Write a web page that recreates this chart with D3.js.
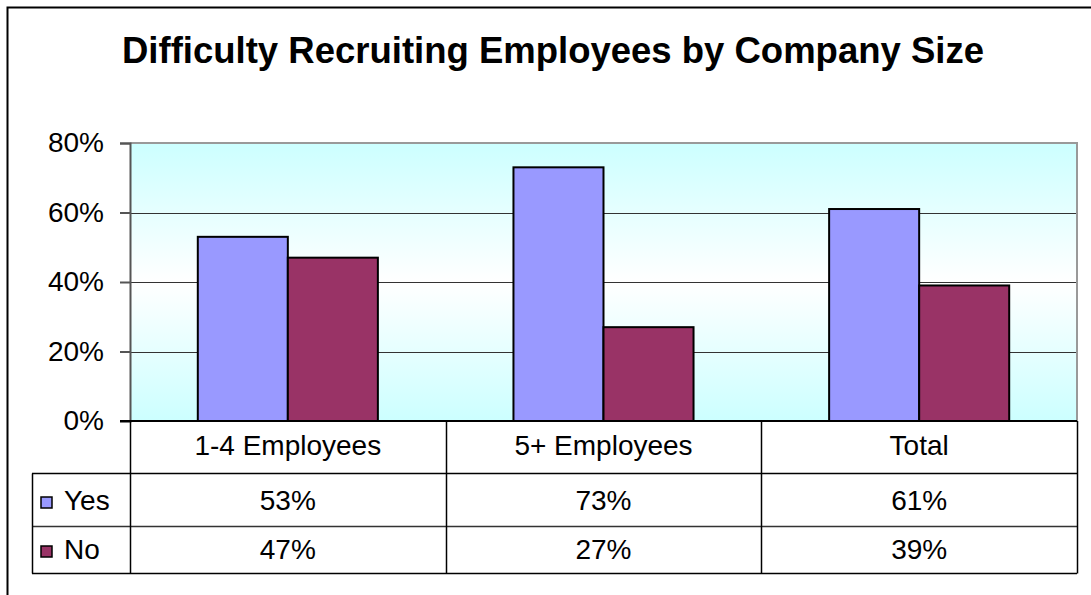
<!DOCTYPE html>
<html>
<head>
<meta charset="utf-8">
<script src="https://cdn.jsdelivr.net/npm/d3@7"></script>
<style>
  html, body { margin: 0; padding: 0; background: #fff; }
  svg { display: block; }
  text { font-family: "Liberation Sans", Arial, sans-serif; fill: #000; }
</style>
</head>
<body>
<svg id="chart" width="1091" height="595"></svg>
<script>
// Chart data
const title = "Difficulty Recruiting Employees by Company Size";
const categories = ["1-4 Employees", "5+ Employees", "Total"];
const seriesNames = ["Yes", "No"];
const yesValues = [53, 73, 61];
const noValues = [47, 27, 39];
const yTicks = [0, 20, 40, 60, 80];
const seriesColors = ["#9999FF", "#993366"];

const seriesValues = [yesValues, noValues];

const svg = d3.select("#chart");

// Outer frame
svg.append("rect")
  .attr("x", 7.5).attr("y", 7.5)
  .attr("width", 1200).attr("height", 700)
  .attr("fill", "#fff").attr("stroke", "#000").attr("stroke-width", 2);

// Title
svg.append("text")
  .attr("x", 553).attr("y", 63)
  .attr("text-anchor", "middle")
  .attr("font-size", 36.5).attr("font-weight", "bold")
  .text(title);

// Plot geometry
const plot = { left: 130, right: 1077, top: 143, bottom: 421 };

const y = d3.scaleLinear().domain([0, 80]).range([plot.bottom, plot.top]);
const x0 = d3.scaleBand().domain(categories).range([plot.left, plot.right]).padding(0);
const x1 = d3.scaleBand().domain(seriesNames).range([0, x0.bandwidth()])
  .paddingInner(0).paddingOuter(0.753);

// Background gradient
const defs = svg.append("defs");
const grad = defs.append("linearGradient").attr("id", "plotBg")
  .attr("x1", 0).attr("y1", 0).attr("x2", 0).attr("y2", 1);
grad.append("stop").attr("offset", "0%").attr("stop-color", "#CCFFFF");
grad.append("stop").attr("offset", "50%").attr("stop-color", "#FFFFFF");
grad.append("stop").attr("offset", "100%").attr("stop-color", "#CCFFFF");

svg.append("rect")
  .attr("x", plot.left).attr("y", plot.top)
  .attr("width", plot.right - plot.left).attr("height", plot.bottom - plot.top)
  .attr("fill", "url(#plotBg)");

// Gridlines
svg.append("g")
  .selectAll("line")
  .data(yTicks.filter(t => t > 0 && t < 80))
  .join("line")
  .attr("x1", plot.left).attr("x2", plot.right)
  .attr("y1", d => Math.round(y(d)) + 0.5).attr("y2", d => Math.round(y(d)) + 0.5)
  .attr("stroke", "#333").attr("stroke-width", 1);

// Plot frame top and right (gray)
svg.append("path")
  .attr("d", `M${plot.left},${plot.top}H${plot.right}V${plot.bottom}`)
  .attr("fill", "none").attr("stroke", "#999").attr("stroke-width", 2);

// Bars
const groups = svg.append("g")
  .selectAll("g")
  .data(categories)
  .join("g")
  .attr("transform", d => `translate(${x0(d)},0)`);

groups.selectAll("rect")
  .data((d, i) => seriesNames.map((s, j) => ({ s, v: seriesValues[j][i], c: seriesColors[j] })))
  .join("rect")
  .attr("x", d => x1(d.s))
  .attr("y", d => y(d.v))
  .attr("width", x1.bandwidth())
  .attr("height", d => y(0) - y(d.v))
  .attr("fill", d => d.c)
  .attr("stroke", "#000").attr("stroke-width", 2);

// Y axis
const yAxis = d3.axisLeft(y).tickValues(yTicks).tickFormat(d => d + "%").tickSize(10).tickPadding(16);
const yg = svg.append("g").attr("transform", `translate(${plot.left},0)`).call(yAxis);
yg.select(".domain").attr("stroke", "#555").attr("stroke-width", 2);
yg.selectAll(".tick line").attr("stroke", "#555").attr("stroke-width", 2);
yg.selectAll(".tick text").attr("font-size", 28).attr("font-family", "Liberation Sans, Arial, sans-serif");

// Data table below the plot
const tableLeft = 32;
const table = svg.append("g");

// Horizontal lines
table.append("line").attr("x1", tableLeft).attr("x2", plot.right)
  .attr("y1", 473.5).attr("y2", 473.5).attr("stroke", "#000").attr("stroke-width", 1.5);
table.append("line").attr("x1", tableLeft).attr("x2", plot.right)
  .attr("y1", 526.5).attr("y2", 526.5).attr("stroke", "#333").attr("stroke-width", 1.5);
table.append("line").attr("x1", tableLeft).attr("x2", plot.right)
  .attr("y1", 573.5).attr("y2", 573.5).attr("stroke", "#000").attr("stroke-width", 1.5);

// Vertical lines: category boundaries
const bounds = categories.map(c => x0(c)).concat([plot.right]);
table.selectAll("line.v")
  .data(bounds)
  .join("line")
  .attr("class", "v")
  .attr("x1", d => Math.round(d) + 0.5).attr("x2", d => Math.round(d) + 0.5)
  .attr("y1", plot.bottom).attr("y2", 573.5)
  .attr("stroke", "#000").attr("stroke-width", 1.5);
table.append("line")
  .attr("x1", tableLeft + 0.5).attr("x2", tableLeft + 0.5)
  .attr("y1", 473.5).attr("y2", 573.5)
  .attr("stroke", "#000").attr("stroke-width", 1.5);

// Bottom axis line
svg.append("line")
  .attr("x1", plot.left - 10).attr("x2", plot.right)
  .attr("y1", plot.bottom).attr("y2", plot.bottom)
  .attr("stroke", "#000").attr("stroke-width", 2);

// Category header
table.selectAll("text.cat")
  .data(categories)
  .join("text")
  .attr("class", "cat")
  .attr("x", d => x0(d) + x0.bandwidth() / 2)
  .attr("y", 455)
  .attr("text-anchor", "middle")
  .attr("font-size", 28)
  .text(d => d);

// Value rows with legend keys
const rowBaselines = [510, 559];
seriesNames.forEach((s, j) => {
  table.selectAll(`text.val${j}`)
    .data(categories)
    .join("text")
    .attr("class", `val${j}`)
    .attr("x", d => x0(d) + x0.bandwidth() / 2)
    .attr("y", rowBaselines[j])
    .attr("text-anchor", "middle")
    .attr("font-size", 28)
    .text((d, i) => seriesValues[j][i] + "%");

  table.append("rect")
    .attr("x", 41).attr("y", rowBaselines[j] - 13)
    .attr("width", 11).attr("height", 11)
    .attr("fill", seriesColors[j]).attr("stroke", "#000").attr("stroke-width", 1.5);
  table.append("text")
    .attr("x", 64).attr("y", rowBaselines[j])
    .attr("font-size", 28)
    .text(s);
});
</script>
</body>
</html>
